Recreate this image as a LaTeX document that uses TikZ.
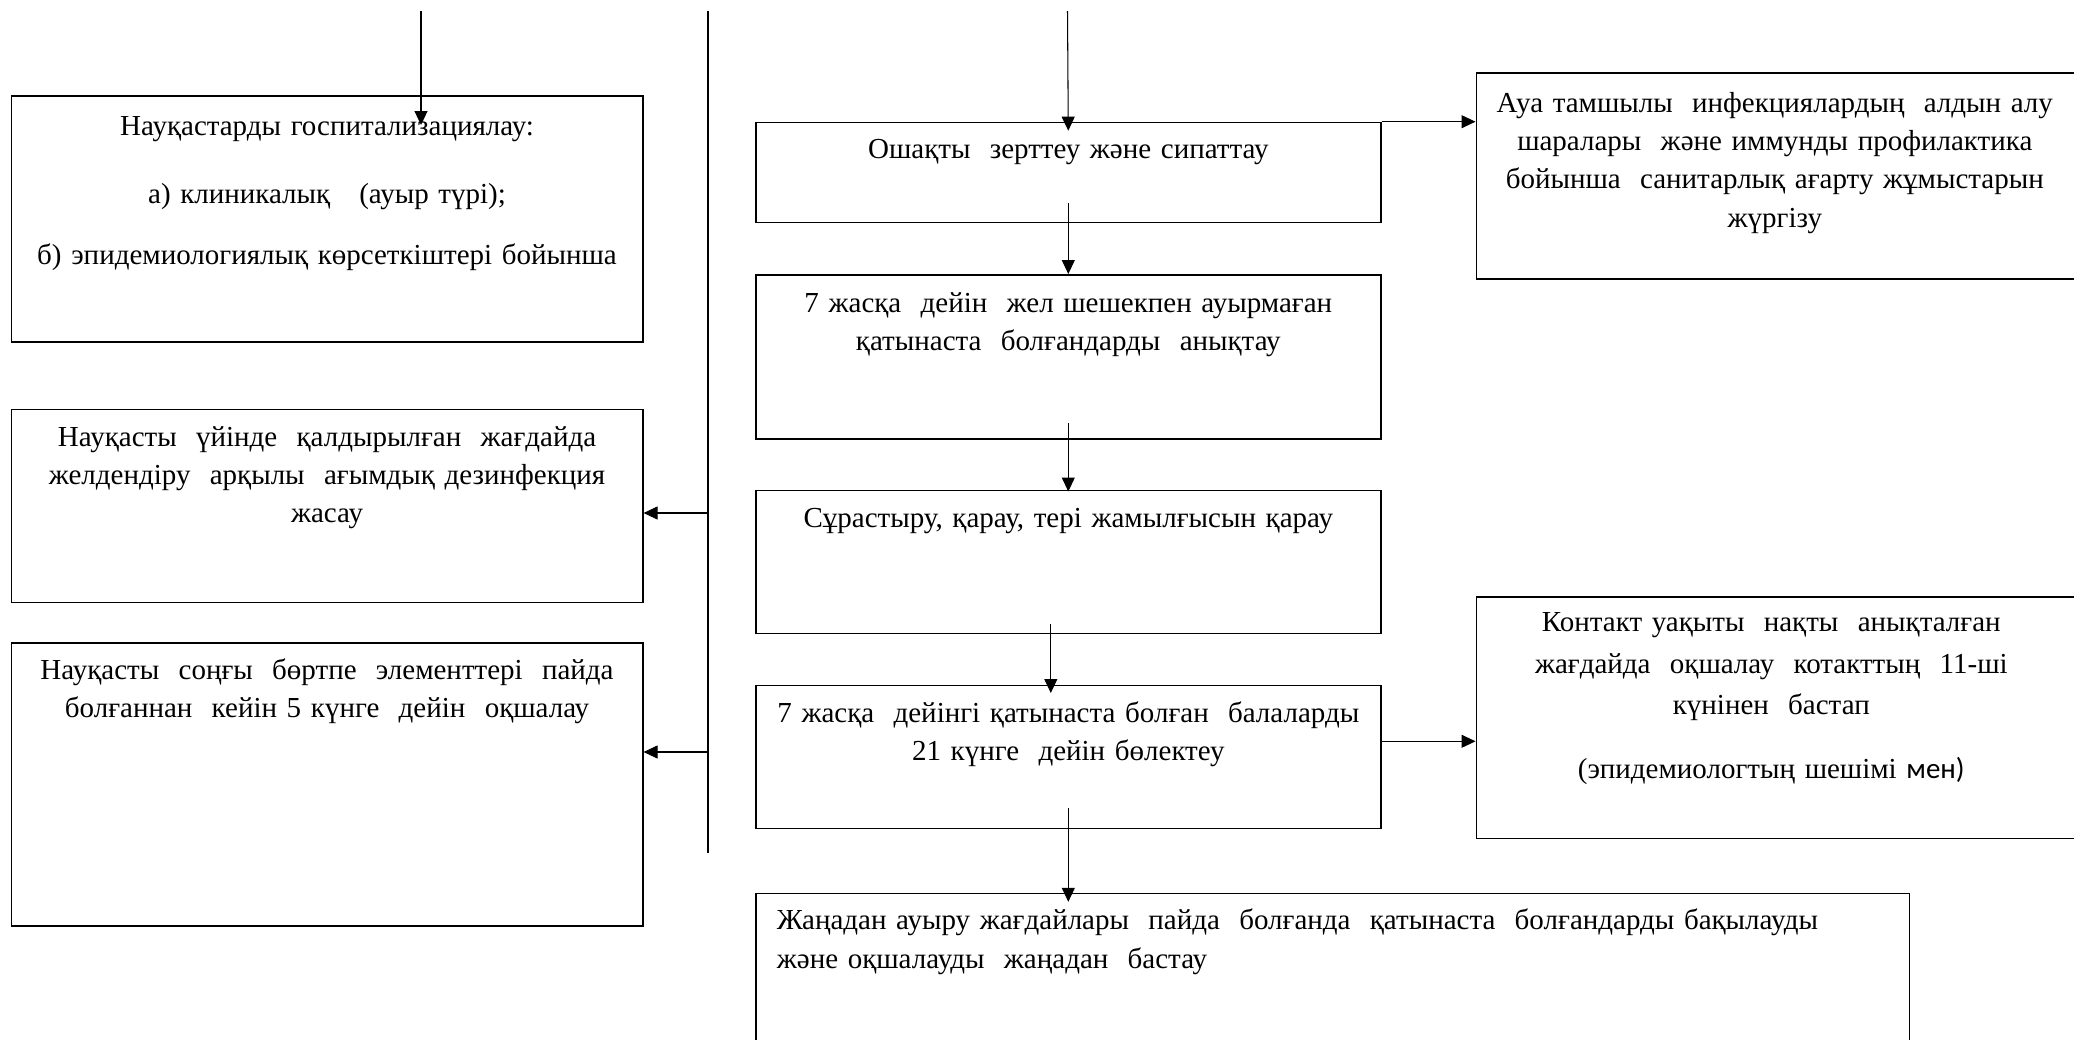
\documentclass[tikz,border=0pt]{standalone}
\usepackage{fontspec}
\setmainfont{Liberation Serif}
\newfontfamily\calibrifont{Carlito}
\usetikzlibrary{arrows.meta,positioning,calc}

\begin{document}
\begin{tikzpicture}[font=\fontsize{16.5}{21.9}\selectfont]
    % Define styles
    \tikzstyle{boxnode}=[draw,line width=0.9pt,inner sep=0pt,anchor=north west]
    \tikzstyle{boxtext}=[anchor=base,inner sep=0pt,align=center,text width=12cm]
    \tikzstyle{flowarrow}=[line width=0.6pt,-{Triangle[length=0.28cm,width=0.26cm]}]

    \useasboundingbox (0,0) rectangle (41.48,-20.78);

    % Left column
    \node[boxnode,minimum width=12.63cm,minimum height=4.92cm] (hosp) at (0.21,-1.90) {};
    \node[boxnode,minimum width=12.63cm,minimum height=3.86cm] (home) at (0.21,-8.17) {};
    \node[boxnode,minimum width=12.63cm,minimum height=5.66cm] (isol) at (0.21,-12.84) {};

    \node[boxtext] (hosp-txt) at ([yshift=-0.80cm]hosp.north)
        {Науқастарды госпитализациялау:\\[0.6cm]
         а) клиникалық\ \ \ (ауыр түрі);\\[0.46cm]
         б) эпидемиологиялық көрсеткіштері бойынша};
    \node[boxtext] (home-txt) at ([yshift=-0.75cm]home.north)
        {Науқасты\ \ үйінде\ \ қалдырылған\ \ жағдайда\\
         желдендіру\ \ арқылы\ \ ағымдық дезинфекция\\
         жасау};
    \node[boxtext] (isol-txt) at ([yshift=-0.74cm]isol.north)
        {Науқасты\ \ соңғы\ \ бөртпе\ \ элементтері\ \ пайда\\
         болғаннан\ \ кейін 5 күнге\ \ дейін\ \ оқшалау};

    % Centre column
    \node[boxnode,minimum width=12.5cm,minimum height=2.0cm] (focus) at (15.10,-2.434) {};
    \node[boxnode,minimum width=12.5cm,minimum height=3.28cm] (contacts) at (15.10,-5.48) {};
    \node[boxnode,minimum width=12.5cm,minimum height=2.86cm] (exam) at (15.10,-9.79) {};
    \node[boxnode,minimum width=12.5cm,minimum height=2.86cm] (separ) at (15.10,-13.69) {};
    \node[boxnode,minimum width=23.07cm,minimum height=3.6cm] (restart) at (15.10,-17.856) {};

    \node[boxtext] (focus-txt) at ([yshift=-0.74cm]focus.north)
        {Ошақты\ \ зерттеу және сипаттау};
    \node[boxtext] (contacts-txt) at ([yshift=-0.76cm]contacts.north)
        {7 жасқа\ \ дейін\ \ жел шешекпен ауырмаған\\
         қатынаста\ \ болғандарды\ \ анықтау};
    \node[boxtext] (exam-txt) at ([yshift=-0.75cm]exam.north)
        {Сұрастыру, қарау, тері жамылғысын қарау};
    \node[boxtext] (separ-txt) at ([yshift=-0.75cm]separ.north)
        {7 жасқа\ \ дейінгі қатынаста болған\ \ балаларды\\
         21 күнге\ \ дейін бөлектеу};
    \node[boxtext,anchor=base west,align=left,text width=22cm] (restart-txt)
        at ([xshift=0.43cm,yshift=-0.74cm]restart.north west)
        {Жаңадан ауыру жағдайлары\ \ пайда\ \ болғанда\ \ қатынаста\ \ болғандарды бақылауды\\
         және оқшалауды\ \ жаңадан\ \ бастау};

    % Right column
    \node[boxnode,minimum width=12.1cm,minimum height=4.12cm] (prevent) at (29.51,-1.44) {};
    \node[boxnode,minimum width=12.1cm,minimum height=4.824cm] (quarant) at (29.51,-11.926) {};

    \node[boxtext] (prevent-txt) at ([xshift=-0.08cm,yshift=-0.80cm]prevent.north)
        {Ауа тамшылы\ \ инфекциялардың\ \ алдын алу\\
         шаралары\ \ және иммунды профилактика\\
         бойынша\ \ санитарлық ағарту жұмыстарын\\
         жүргізу};
    \node[boxtext,font=\fontsize{16.5}{23.6}\selectfont] (quarant-txt)
        at ([xshift=-0.15cm,yshift=-0.71cm]quarant.north)
        {Контакт уақыты\ \ нақты\ \ анықталған\\
         жағдайда\ \ оқшалау\ \ котакттың\ \ 11-ші\\
         күнінен\ \ бастап\\[0.45cm]
         (эпидемиологтың шешімі {\calibrifont мен)}};

    % Connectors
    \coordinate (top-l) at (8.42,-0.22);
    \coordinate (top-c) at (21.35,-0.22);
    \coordinate (vtop) at (14.16,-0.22);
    \coordinate (vbot) at (14.16,-17.06);
    \coordinate (v-home) at (14.16,-10.26);
    \coordinate (v-isol) at (14.16,-15.04);
    \coordinate (sep-r) at ([yshift=0.31cm]separ.east);

    \draw[line width=0.7pt] (vtop) -- (vbot);
    \draw[flowarrow] (top-l) -- ($(top-l |- hosp.north)+(0,-0.6)$);
    \draw[flowarrow] (v-home) -- (v-home -| home.east);
    \draw[flowarrow] (v-isol) -- (v-isol -| isol.east);

    \draw[flowarrow] (top-c) -- ([yshift=-0.18cm]focus.north);
    \draw[flowarrow] ([yshift=0.4cm]focus.south) -- (contacts.north);
    \draw[flowarrow] ([yshift=0.33cm]contacts.south) -- ([yshift=-0.04cm]exam.north);
    \draw[flowarrow] ([xshift=-0.35cm,yshift=0.2cm]exam.south) -- ([xshift=-0.35cm,yshift=-0.17cm]separ.north);
    \draw[flowarrow] ([yshift=0.42cm]separ.south) -- ($(separ.south |- restart.north)+(0,-0.18)$);

    \draw[flowarrow] (focus.north east) -- (focus.north east -| prevent.west);
    \draw[flowarrow] (sep-r) -- (sep-r -| quarant.west);
\end{tikzpicture}
\end{document}
